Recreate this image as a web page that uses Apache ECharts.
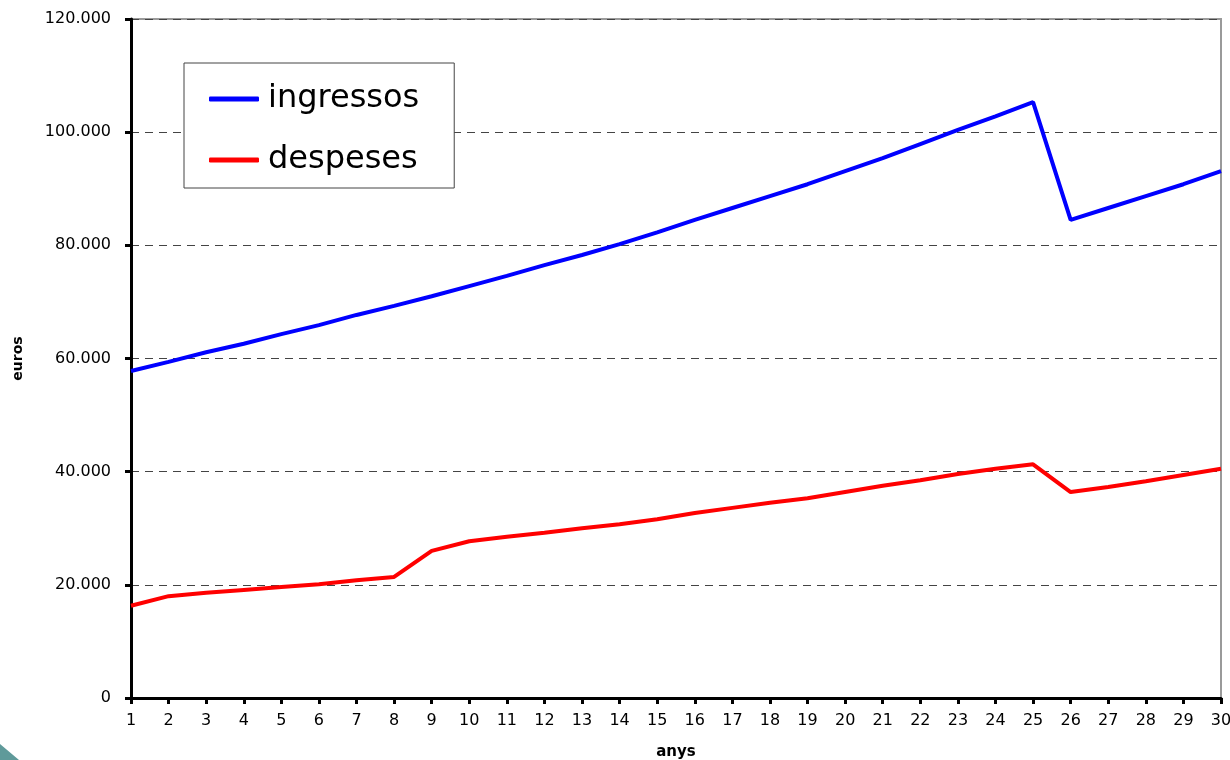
<!DOCTYPE html>
<html>
<head>
<meta charset="utf-8">
<script src="https://cdn.jsdelivr.net/npm/echarts@6/dist/echarts.min.js"></script>
<style>
html,body{margin:0;padding:0;background:#fff;}
#chart{width:1230px;height:760px;}
</style>
</head>
<body>
<div id="chart"></div>
<script>
const years = ['1','2','3','4','5','6','7','8','9','10','11','12','13','14','15','16','17','18','19','20','21','22','23','24','25','26','27','28','29','30'];
const ingressos = [57800,59400,61100,62600,64300,65900,67700,69300,71000,72800,74600,76500,78300,80200,82300,84500,86600,88700,90800,93100,95400,97900,100400,102800,105300,84500,86600,88700,90800,93100];
const despeses = [16300,18000,18600,19100,19600,20100,20800,21400,26000,27700,28500,29200,30000,30700,31600,32700,33600,34500,35300,36400,37500,38500,39600,40500,41300,36400,37300,38300,39400,40500];
const seriesNames = ['ingressos','despeses'];
const yTicks = {min:0, max:120000, interval:20000};

const FONT = 'DejaVu Sans';
const chart = echarts.init(document.getElementById('chart'), null, {renderer:'canvas'});
function fmt(v){ return v === 0 ? '0' : String(v).replace(/\B(?=(\d{3})+(?!\d))/g, '.'); }

chart.setOption({
  backgroundColor:'#ffffff',
  animation:false,
  grid:{left:131, right:9, top:19, bottom:62, outerBoundsMode:'none', containLabel:false,
        show:true, borderColor:'#9a9a9a', borderWidth:2, backgroundColor:'transparent'},
  legend:{
    orient:'vertical', left:184, top:63,
    padding:[16,35,8,25],
    backgroundColor:'#ffffff', borderColor:'#444', borderWidth:1,
    itemWidth:50, itemHeight:5, itemGap:21,
    icon:'roundRect',
    textStyle:{fontFamily:FONT, fontSize:32, color:'#000', lineHeight:40, padding:[0,0,0,4]},
    data:seriesNames
  },
  xAxis:{
    type:'category', data:years, boundaryGap:false,
    name:'anys', nameLocation:'middle', nameGap:47,
    nameTextStyle:{fontFamily:FONT, fontSize:15, fontWeight:'bold', color:'#000'},
    axisLine:{lineStyle:{color:'#000', width:3}},
    axisTick:{show:true, length:6, lineStyle:{color:'#000', width:3}},
    axisLabel:{fontFamily:FONT, fontSize:16, color:'#000', margin:15, interval:0},
    splitLine:{show:false}
  },
  yAxis:{
    type:'value', min:yTicks.min, max:yTicks.max, interval:yTicks.interval,
    name:'euros', nameLocation:'middle', nameGap:106, nameRotate:90,
    nameTextStyle:{fontFamily:FONT, fontSize:14, fontWeight:'bold', color:'#000'},
    axisLine:{show:true, lineStyle:{color:'#000', width:3}},
    axisTick:{show:true, length:6, lineStyle:{color:'#000', width:3}},
    axisLabel:{fontFamily:FONT, fontSize:16, color:'#000', margin:20, formatter:fmt},
    splitLine:{show:true, lineStyle:{color:'#444', width:1, type:[8,6]}}
  },
  series:[
    {name:seriesNames[0], type:'line', data:ingressos, symbol:'none', color:'#0000ff',
     lineStyle:{color:'#0000ff', width:4}, z:3},
    {name:seriesNames[1], type:'line', data:despeses, symbol:'none', color:'#ff0000',
     lineStyle:{color:'#ff0000', width:4}, z:3}
  ],
  graphic:[{
    type:'polygon', silent:true, z:-1,
    shape:{points:[[0,744],[19,760],[0,760]]},
    style:{fill:'#5f9a9a'}
  }]
});
</script>
</body>
</html>
